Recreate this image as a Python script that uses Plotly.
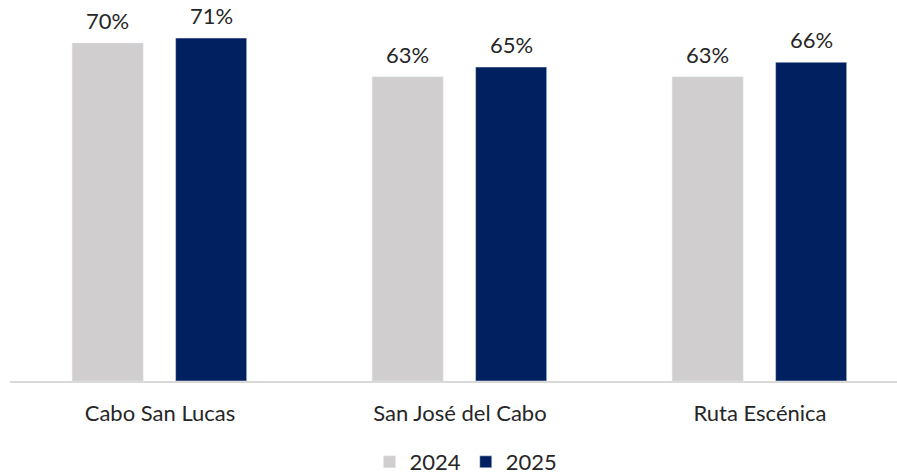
import plotly.graph_objects as go

categories = ["Cabo San Lucas", "San José del Cabo", "Ruta Escénica"]
vals_2024 = [70, 63, 63]
vals_2025 = [71, 65, 66]
series_names = ["2024", "2025"]
colors = ["#D0CECE", "#002060"]

W, H = 897, 476
BASE = 381                 # baseline y inside figure
PX_PER_UNIT = 4.83
FONT = "Lato"
TXT = "#262626"

fig = go.Figure()
offsets = [-0.293, 0.052]
bar_w = 0.237
for name, vals, col, off in zip(series_names, [vals_2024, vals_2025], colors, offsets):
    fig.add_trace(go.Bar(
        x=categories, y=vals, name=name, marker_color=col,
        width=bar_w, offset=off, cliponaxis=False,
    ))
    for c, v in zip(categories, vals):
        fig.add_annotation(
            x=c, y=v, xref="x", yref="y", text=f"{v}%", showarrow=False,
            xshift=(off + bar_w / 2) * 300, yanchor="bottom", yshift=7,
            font=dict(size=22, color=TXT, family=FONT),
        )

fig.update_layout(
    width=W, height=H,
    margin=dict(l=10, r=0, t=0, b=H - BASE, autoexpand=False),
    plot_bgcolor="white", paper_bgcolor="white",
    barmode="group",
    font=dict(family=FONT, size=22, color=TXT),
    showlegend=True,
    legend=dict(orientation="h", xref="container", yref="container",
                x=466 / W, xanchor="center", y=1 - 462 / H, yanchor="middle",
                font=dict(size=22), itemwidth=30, traceorder="normal"),
)
fig.update_xaxes(range=[-0.5, -0.5 + 887 / 300], showline=True, linecolor="#D9D9D9",
                 linewidth=1.5, showgrid=False, ticks="", ticklabelstandoff=12,
                 tickfont=dict(size=22))
fig.update_yaxes(range=[0, BASE / PX_PER_UNIT], visible=False, showgrid=False)

fig.write_html("out.html", config={"displayModeBar": False},
               post_script="document.body.style.margin='0px';")
